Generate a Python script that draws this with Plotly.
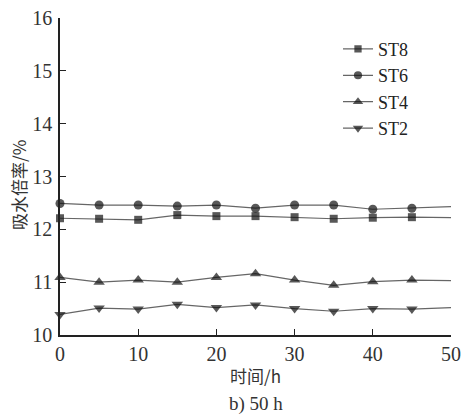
import plotly.graph_objects as go

time_h = [0, 5, 10, 15, 20, 25, 30, 35, 40, 45, 50]
st8 = [12.21, 12.20, 12.18, 12.27, 12.25, 12.25, 12.23, 12.20, 12.22, 12.23, 12.22]
st6 = [12.49, 12.46, 12.46, 12.44, 12.46, 12.40, 12.46, 12.46, 12.38, 12.40, 12.43]
st4 = [11.09, 11.00, 11.04, 11.00, 11.09, 11.16, 11.04, 10.94, 11.01, 11.04, 11.03]
st2 = [10.39, 10.51, 10.49, 10.58, 10.52, 10.57, 10.50, 10.45, 10.50, 10.49, 10.52]

series = [("ST8", st8, "square", 8), ("ST6", st6, "circle", 9),
          ("ST4", st4, "triangle-up", 10), ("ST2", st2, "triangle-down", 10)]

fig = go.Figure()
for name, ys, sym, sz in series:
    sizes = [sz] * (len(time_h) - 1) + [0]
    fig.add_trace(go.Scatter(
        x=time_h, y=ys, name=name, mode="lines+markers",
        line=dict(color="#666666", width=1.2),
        marker=dict(symbol=sym, size=sizes, color="#111111", line=dict(width=0)),
        cliponaxis=False,
    ))

serif = "Liberation Serif"
cjk = "Noto Sans CJK SC"
txt = "#333333"
fig.update_layout(
    width=466, height=416,
    margin=dict(l=60, r=15, t=18, b=81, autoexpand=False),
    paper_bgcolor="white", plot_bgcolor="white",
    font=dict(family=serif, color=txt, size=20),
    showlegend=True,
    legend=dict(x=0.711, y=0.96, xanchor="left", yanchor="top",
                font=dict(size=18, family=serif, color="#222222"),
                bgcolor="rgba(0,0,0,0)", tracegroupgap=4, itemwidth=30),
    xaxis=dict(range=[0, 50], tickvals=[0, 10, 20, 30, 40, 50],
               showline=True, linecolor="#222222", linewidth=1.5,
               ticks="inside", ticklen=6, tickcolor="#222222",
               showgrid=False, zeroline=False,
               tickfont=dict(size=20, family=serif, color=txt)),
    yaxis=dict(range=[10, 16], tickvals=[10, 11, 12, 13, 14, 15, 16],
               showline=True, linecolor="#222222", linewidth=1.5,
               ticks="inside", ticklen=6, tickcolor="#222222",
               showgrid=False, zeroline=False, ticklabelstandoff=2,
               tickfont=dict(size=20, family=serif, color=txt)),
    annotations=[
        dict(text="时间/h", x=0.5, y=375, xref="paper", yref="paper",
             xanchor="center", yanchor="middle", showarrow=False,
             font=dict(size=17, family=cjk, color=txt)),
        dict(text="b) 50 h", x=0.5, y=404, xref="paper", yref="paper",
             xanchor="center", yanchor="middle", showarrow=False,
             font=dict(size=19, family=serif, color=txt)),
        dict(text="吸水倍率/%", x=18, y=185, xref="paper", yref="paper",
             xanchor="center", yanchor="middle", showarrow=False, textangle=-90,
             font=dict(size=17, family=cjk, color=txt)),
    ],
)

# convert pixel positions for annotations into paper coordinates
pw = 466 - 60 - 15
ph = 416 - 18 - 81
for ann in fig.layout.annotations:
    if ann.text == "吸水倍率/%":
        ann.x = (ann.x - 60) / pw
    ann.y = (416 - 81 - ann.y) / ph

fig.write_html("out.html")
